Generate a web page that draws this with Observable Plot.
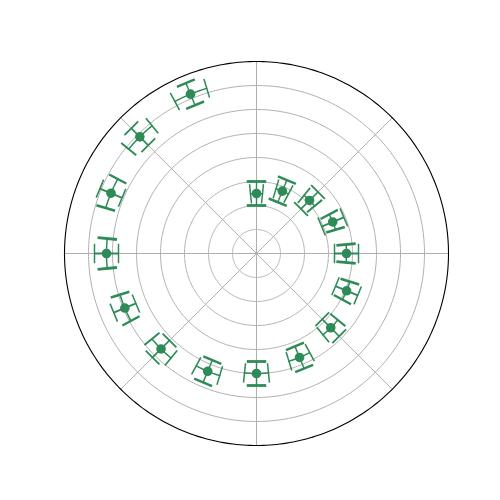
<!DOCTYPE html>
<html><head><meta charset="utf-8">
<script src="https://cdn.jsdelivr.net/npm/d3@7"></script>
<script src="https://cdn.jsdelivr.net/npm/@observablehq/plot@0.6"></script>
<style>body{margin:0;background:#fff;font-family:"DejaVu Sans",sans-serif;}</style>
</head><body><div id="chart"></div>
<script>
// Data (theta measured from north, clockwise)
const angleDeg = [0, 22.5, 45, 67.5, 90, 112.5, 135, 157.5, 180, 202.5, 225, 247.5, 270, 292.5, 315, 337.5];
const radius = [0.5, 0.5625, 0.625, 0.6875, 0.75, 0.8125, 0.875, 0.9375, 1.0, 1.0625, 1.125, 1.1875, 1.25, 1.3125, 1.375, 1.4375];
const angleErrRad = [0.1, 0.1, 0.1, 0.1, 0.1, 0.1, 0.1, 0.1, 0.1, 0.1, 0.1, 0.1, 0.1, 0.1, 0.1, 0.1];
const radiusErr = [0.1, 0.1, 0.1, 0.1, 0.1, 0.1, 0.1, 0.1, 0.1, 0.1, 0.1, 0.1, 0.1, 0.1, 0.1, 0.1];
const gridRadii = [0.2, 0.4, 0.6, 0.8, 1.0, 1.2, 1.4];
const spokeDeg = [0, 45, 90, 135, 180, 225, 270, 315];
const rMax = 1.6;

const color = "#2E8B57";
const capHalf = 0.081; // half cap length in radial units (~9.7px)
const rad = d => d * Math.PI / 180;
const X = (t, r) => r * Math.sin(t);
const Y = (t, r) => r * Math.cos(t);
const horiz = d => { const dx = d.x2 - d.x1, dy = d.y2 - d.y1; return dx * dx / (dx * dx + dy * dy); };

const pts = angleDeg.map((a, i) => ({id: i, t: rad(a), r: radius[i], et: angleErrRad[i], er: radiusErr[i]}));

// circle geometry for gridlines and spine
const N = 360;
const ring = (rr, key) => d3.range(N).map(k => ({ring: key, x: X(2 * Math.PI * k / N, rr), y: Y(2 * Math.PI * k / N, rr)}));
const gridCircles = gridRadii.flatMap((rr, j) => ring(rr, j));
const outer = ring(rMax, "outer");
const spokes = spokeDeg.map(a => ({x2: X(rad(a), rMax), y2: Y(rad(a), rMax)}));

// angular error arcs
const arcs = pts.flatMap(p => d3.range(21).map(k => {
  const t = p.t - p.et + 2 * p.et * k / 20;
  return {id: p.id, x: X(t, p.r), y: Y(t, p.r), w: 1.4 + 0.5 * Math.cos(p.t) ** 2};
}));
// radial error bars
const rbars = pts.map(p => ({x1: X(p.t, p.r - p.er), y1: Y(p.t, p.r - p.er), x2: X(p.t, p.r + p.er), y2: Y(p.t, p.r + p.er)}));
// caps at ends of radial bars (perpendicular to radius)
const rcaps = pts.flatMap(p => [p.r - p.er, p.r + p.er].map(rr => {
  const cx = X(p.t, rr), cy = Y(p.t, rr);
  const px = Math.cos(p.t), py = -Math.sin(p.t);
  return {x1: cx - capHalf * px, y1: cy - capHalf * py, x2: cx + capHalf * px, y2: cy + capHalf * py};
}));
// caps at ends of angular arcs (along radius)
const tcaps = pts.flatMap(p => [p.t - p.et, p.t + p.et].map(t => ({
  x1: X(t, p.r - capHalf), y1: Y(t, p.r - capHalf), x2: X(t, p.r + capHalf), y2: Y(t, p.r + capHalf)
})));
const caps = rcaps.concat(tcaps);

const chart = Plot.plot({
  width: 500, height: 500,
  marginLeft: 64, marginRight: 52, marginTop: 61, marginBottom: 55,
  x: {domain: [-rMax, rMax], axis: null},
  y: {domain: [-rMax, rMax], axis: null},
  marks: [
    Plot.line(gridCircles, {x: "x", y: "y", z: "ring", stroke: "#b0b0b0", strokeWidth: 1, curve: "linear-closed"}),
    Plot.link(spokes, {x1: () => 0, y1: () => 0, x2: "x2", y2: "y2", stroke: "#b0b0b0", strokeWidth: 1}),
    Plot.line(outer, {x: "x", y: "y", stroke: "black", strokeWidth: 1.1, curve: "linear-closed"}),
    Plot.line(arcs, {x: "x", y: "y", z: "id", stroke: color, strokeWidth: 1.5}),
    Plot.link(rbars, {x1: "x1", y1: "y1", x2: "x2", y2: "y2", stroke: color, strokeWidth: d => 1.4 + 0.6 * horiz(d)}),
    Plot.link(caps, {x1: "x1", y1: "y1", x2: "x2", y2: "y2", stroke: color, strokeWidth: d => 1.5 + 1.3 * horiz(d) ** 2}),
    Plot.dot(pts, {x: p => X(p.t, p.r), y: p => Y(p.t, p.r), r: 4.8, fill: color, stroke: "none"})
  ]
});
document.getElementById("chart").append(chart);
</script>
</body></html>
